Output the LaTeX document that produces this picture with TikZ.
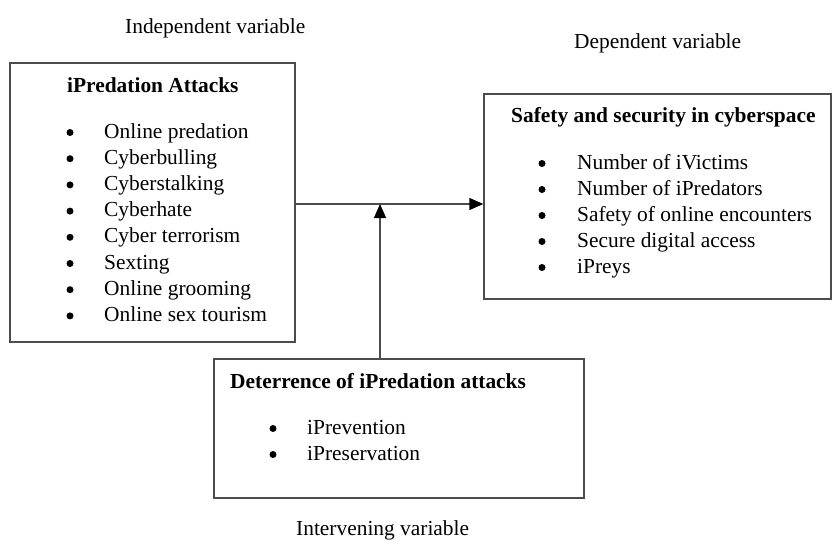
\documentclass[tikz,border=0pt]{standalone}
\usepackage{fontspec}
\setmainfont{Liberation Serif}
\usetikzlibrary{arrows.meta}
\begin{document}
\begin{tikzpicture}[x=1pt,y=-1pt,
  boxstyle/.style={draw=black!70,line width=1.4pt,inner sep=0pt},
  txt/.style={anchor=base west,inner sep=0pt,font=\fontsize{21.4}{26}\selectfont},
  ttl/.style={anchor=base west,inner sep=0pt,font=\fontsize{21.4}{26}\selectfont\bfseries},
  bul/.style={circle,fill=black,inner sep=0pt,minimum size=7pt},
  arr/.style={draw=black!70,line width=1.4pt,-{Triangle[length=14pt,width=12pt,color=black]}}]
\useasboundingbox (0,0) rectangle (832,539);
\fill[white] (0,0) rectangle (832,539);
% boxes
\node[boxstyle,minimum width=285pt,minimum height=279pt] (left) at (152.5,202.5) {};
\node[boxstyle,minimum width=347pt,minimum height=205pt] (right) at (657.5,196.5) {};
\node[boxstyle,minimum width=370pt,minimum height=139pt] (bot) at (399,428.5) {};
% labels
\node[txt] (l1) at (125,33) {Independent variable};
\node[txt] (l2) at (574,48) {Dependent variable};
\node[txt] (l3) at (296,535) {Intervening variable};
% left box
\node[ttl] (t1) at (67,92) {iPredation Attacks};
\foreach \t [count=\i] in {Online predation,Cyberbulling,Cyberstalking,Cyberhate,Cyber terrorism,Sexting,Online grooming,Online sex tourism}{
  \node[bul] (lb\i) at (70,{132.5+26.2*(\i-1)}) {};
  \node[txt] (lt\i) at (104,{138+26.2*(\i-1)}) {\t};
}
% right box
\node[ttl] (t2) at (511,122) {Safety and security in cyberspace};
\foreach \t [count=\i] in {Number of iVictims,Number of iPredators,Safety of online encounters,Secure digital access,iPreys}{
  \node[bul] (rb\i) at (542,{163.5+26*(\i-1)}) {};
  \node[txt] (rt\i) at (577,{169+26*(\i-1)}) {\t};
}
% bottom box
\node[ttl] (t3) at (230,388) {Deterrence of iPredation attacks};
\foreach \t [count=\i] in {iPrevention,iPreservation}{
  \node[bul] (bb\i) at (273,{428.5+26*(\i-1)}) {};
  \node[txt] (bt\i) at (307,{434+26*(\i-1)}) {\t};
}
% connectors
\coordinate (j) at (380,204);
\draw[arr] (left.east |- j) -- (right.west |- j);
\draw[arr] (bot.north -| j) -- (j);
\end{tikzpicture}
\end{document}
